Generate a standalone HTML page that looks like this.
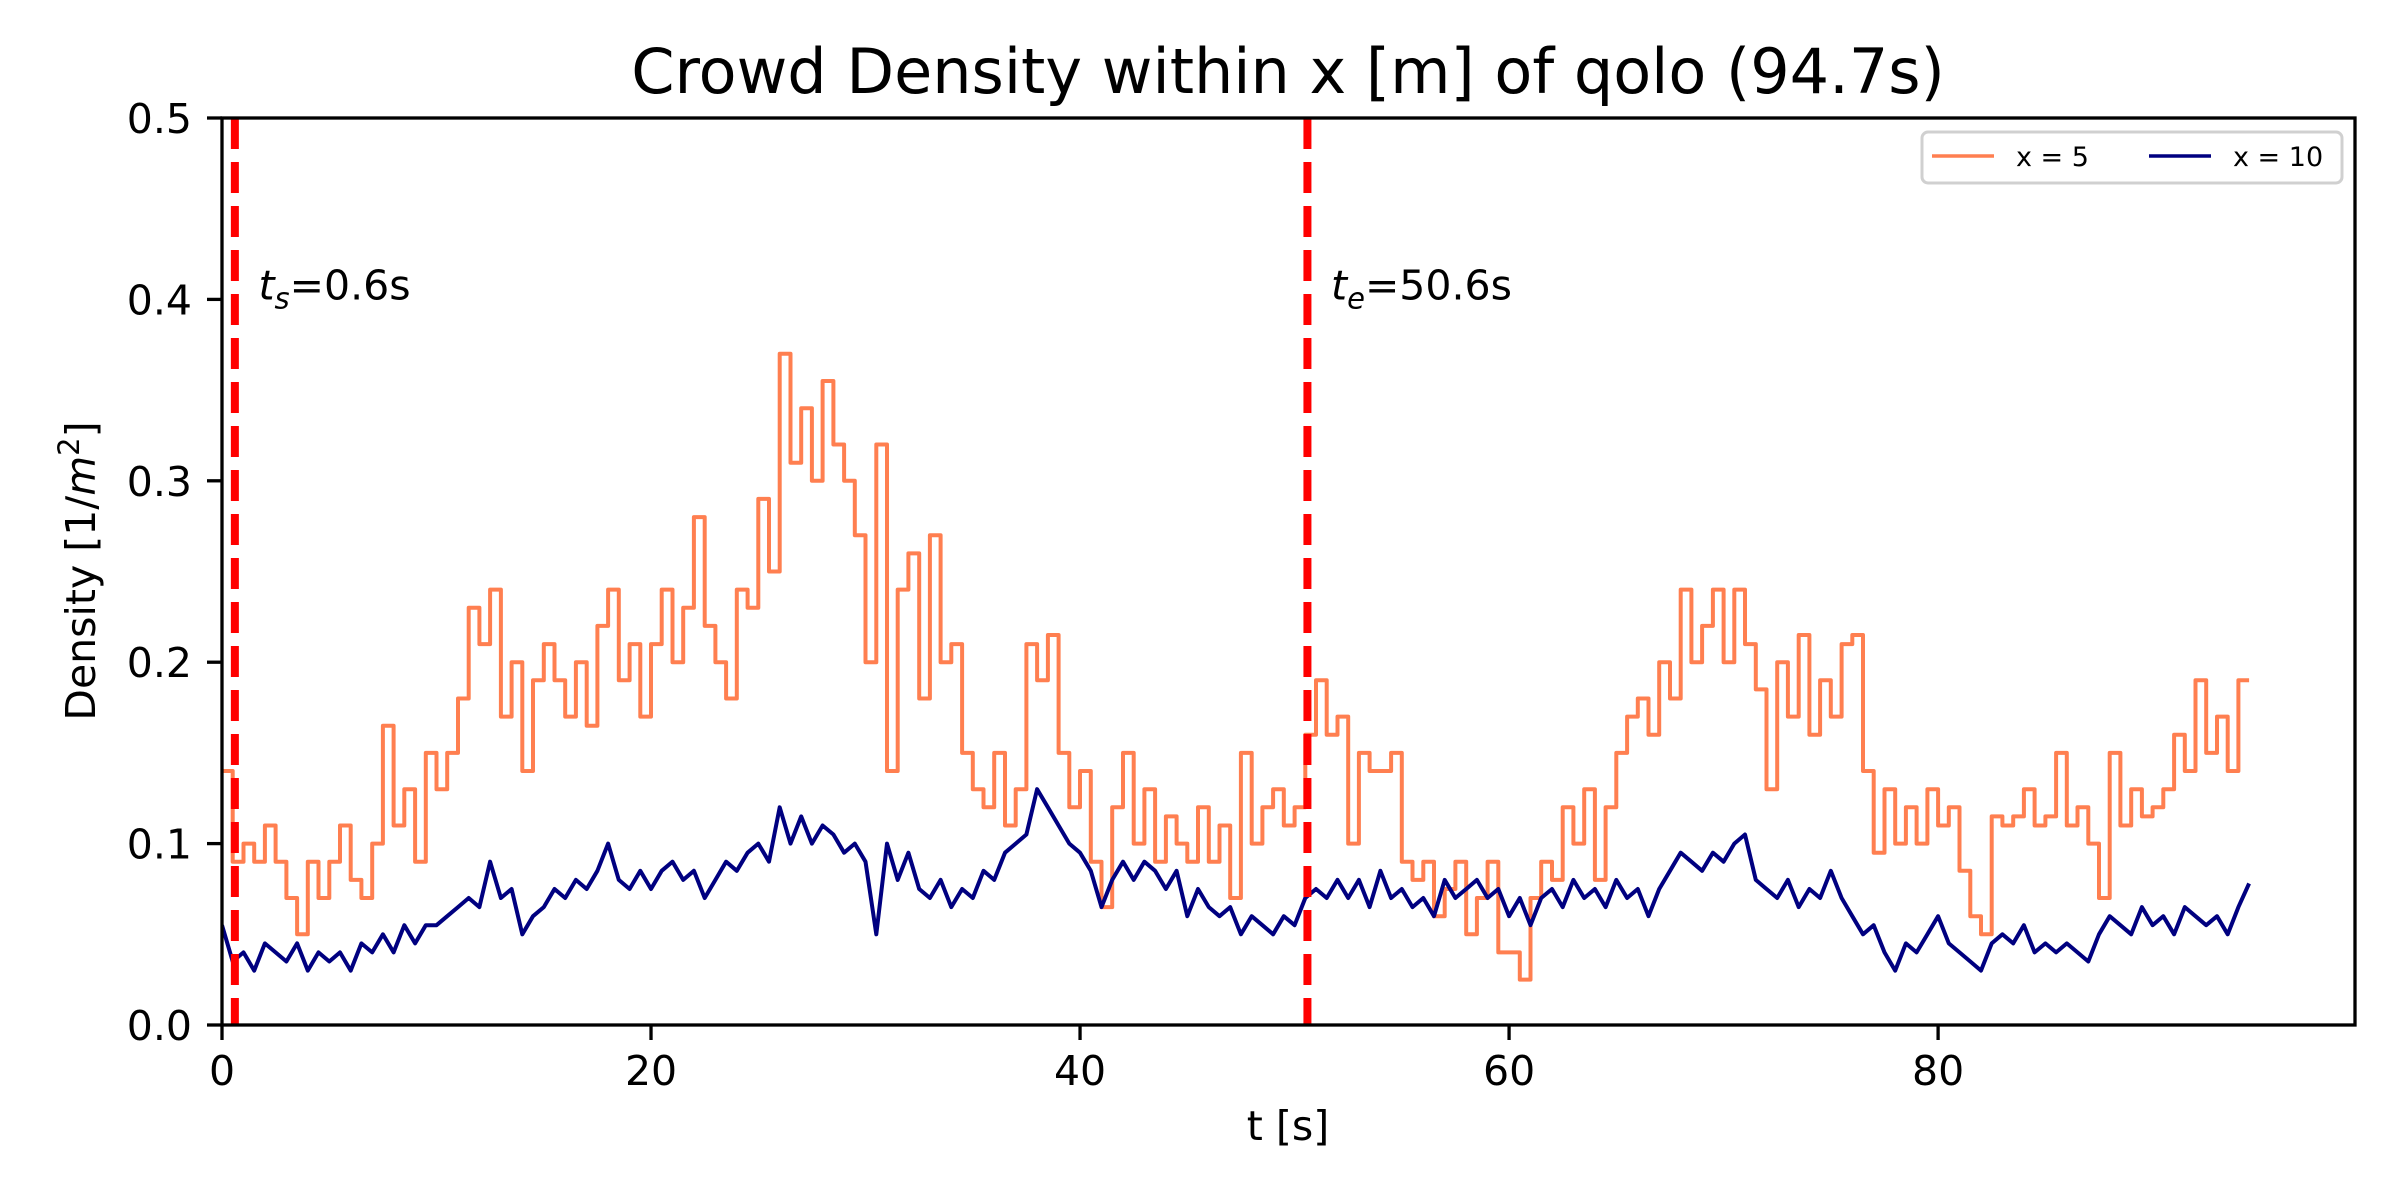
<!DOCTYPE html>
<html><head><meta charset="utf-8"><style>
html,body{margin:0;padding:0;background:#fff;width:2400px;height:1200px;overflow:hidden}
svg{display:block;font-family:"DejaVu Sans","Liberation Sans",sans-serif}
</style></head><body>
<svg id="chart" width="2400" height="1200" viewBox="0 0 2400 1200" xmlns="http://www.w3.org/2000/svg">
<rect width="2400" height="1200" fill="#fff"/>
<defs><clipPath id="plotclip"><rect x="222" y="118" width="2133" height="907"/></clipPath></defs>
<text x="1288" y="93" font-size="62" text-anchor="middle">Crowd Density within x [m] of qolo (94.7s)</text>
<text x="1288" y="1140" font-size="41" text-anchor="middle">t [s]</text>
<text transform="translate(95,571) rotate(-90)" font-size="41" text-anchor="middle">Density [1/<tspan font-style="italic">m</tspan><tspan font-size="29" dy="-16">2</tspan><tspan dy="16">]</tspan></text>
<g id="series" clip-path="url(#plotclip)"></g>
<g id="axes"></g>
</svg>
<script>
const dt = 0.5;
const xTicks = [0, 20, 40, 60, 80];
const yTicks = [0.0, 0.1, 0.2, 0.3, 0.4, 0.5];
const yTickLabels = ["0.0", "0.1", "0.2", "0.3", "0.4", "0.5"];
const markerTimes = [0.6, 50.6];
const markerLabels = ["s=0.6s", "e=50.6s"];
const seriesNames = ["x = 5", "x = 10"];
const densityX5 = [
0.14,0.09,0.10,0.09,0.11,0.09,0.07,0.05,0.09,0.07,
0.09,0.11,0.08,0.07,0.10,0.165,0.11,0.13,0.09,0.15,
0.13,0.15,0.18,0.23,0.21,0.24,0.17,0.20,0.14,0.19,
0.21,0.19,0.17,0.20,0.165,0.22,0.24,0.19,0.21,0.17,
0.21,0.24,0.20,0.23,0.28,0.22,0.20,0.18,0.24,0.23,
0.29,0.25,0.37,0.31,0.34,0.30,0.355,0.32,0.30,0.27,
0.20,0.32,0.14,0.24,0.26,0.18,0.27,0.20,0.21,0.15,
0.13,0.12,0.15,0.11,0.13,0.21,0.19,0.215,0.15,0.12,
0.14,0.09,0.065,0.12,0.15,0.10,0.13,0.09,0.115,0.10,
0.09,0.12,0.09,0.11,0.07,0.15,0.10,0.12,0.13,0.11,
0.12,0.16,0.19,0.16,0.17,0.10,0.15,0.14,0.14,0.15,
0.09,0.08,0.09,0.06,0.075,0.09,0.05,0.07,0.09,0.04,
0.04,0.025,0.07,0.09,0.08,0.12,0.10,0.13,0.08,0.12,
0.15,0.17,0.18,0.16,0.20,0.18,0.24,0.20,0.22,0.24,
0.20,0.24,0.21,0.185,0.13,0.20,0.17,0.215,0.16,0.19,
0.17,0.21,0.215,0.14,0.095,0.13,0.10,0.12,0.10,0.13,
0.11,0.12,0.085,0.06,0.05,0.115,0.11,0.115,0.13,0.11,
0.115,0.15,0.11,0.12,0.10,0.07,0.15,0.11,0.13,0.115,
0.12,0.13,0.16,0.14,0.19,0.15,0.17,0.14,0.19,0.19];
const densityX10 = [
0.055,0.035,0.04,0.03,0.045,0.04,0.035,0.045,0.03,0.04,
0.035,0.04,0.03,0.045,0.04,0.05,0.04,0.055,0.045,0.055,
0.055,0.06,0.065,0.07,0.065,0.09,0.07,0.075,0.05,0.06,
0.065,0.075,0.07,0.08,0.075,0.085,0.10,0.08,0.075,0.085,
0.075,0.085,0.09,0.08,0.085,0.07,0.08,0.09,0.085,0.095,
0.10,0.09,0.12,0.10,0.115,0.10,0.11,0.105,0.095,0.10,
0.09,0.05,0.10,0.08,0.095,0.075,0.07,0.08,0.065,0.075,
0.07,0.085,0.08,0.095,0.10,0.105,0.13,0.12,0.11,0.10,
0.095,0.085,0.065,0.08,0.09,0.08,0.09,0.085,0.075,0.085,
0.06,0.075,0.065,0.06,0.065,0.05,0.06,0.055,0.05,0.06,
0.055,0.07,0.075,0.07,0.08,0.07,0.08,0.065,0.085,0.07,
0.075,0.065,0.07,0.06,0.08,0.07,0.075,0.08,0.07,0.075,
0.06,0.07,0.055,0.07,0.075,0.065,0.08,0.07,0.075,0.065,
0.08,0.07,0.075,0.06,0.075,0.085,0.095,0.09,0.085,0.095,
0.09,0.10,0.105,0.08,0.075,0.07,0.08,0.065,0.075,0.07,
0.085,0.07,0.06,0.05,0.055,0.04,0.03,0.045,0.04,0.05,
0.06,0.045,0.04,0.035,0.03,0.045,0.05,0.045,0.055,0.04,
0.045,0.04,0.045,0.04,0.035,0.05,0.06,0.055,0.05,0.065,
0.055,0.06,0.05,0.065,0.06,0.055,0.06,0.05,0.065,0.078];

const NS = "http://www.w3.org/2000/svg";
const L = 222, R = 2355, T = 118, B = 1025;
const xMin = 0, xMax = 99.435, yMin = 0, yMax = 0.5;
function xs(v){ return L + (v - xMin) / (xMax - xMin) * (R - L); }
function ys(v){ return B - (v - yMin) / (yMax - yMin) * (B - T); }
function mk(tag, attrs, parent){ const e = document.createElementNS(NS, tag); for (const k in attrs) e.setAttribute(k, attrs[k]); parent.appendChild(e); return e; }

const series = document.getElementById('series');
const axes = document.getElementById('axes');

function drawLine(vals, color, name, stepped){
  let d = '';
  vals.forEach((v,i)=>{
    const x = xs(i*dt).toFixed(1), y = ys(v).toFixed(1);
    if (i === 0) d += 'M' + x + ',' + y;
    else if (stepped) d += ' H' + x + ' V' + y;
    else d += ' L' + x + ',' + y;
  });
  const p = mk('path', {d:d, fill:'none', stroke:color, 'stroke-width':4, 'stroke-linejoin':'round'}, series);
  
  
}
drawLine(densityX5, '#FF7F50', 'line-x5', true);
drawLine(densityX10, '#000080', 'line-x10', false);

markerTimes.forEach((t,i)=>{
  const ln = mk('line', {x1:xs(t), x2:xs(t), y1:T, y2:B, stroke:'#FF0000', 'stroke-width':8, 'stroke-dasharray':'31 13'}, series);
  
  
  const tx = mk('text', {x:xs(t+1.1), y:ys(0.4), 'font-size':41}, axes);
  
  
  const parts = markerLabels[i].split('=');
  const it = mk('tspan', {'font-style':'italic'}, tx); it.textContent = 't';
  const sub = mk('tspan', {'font-style':'italic', 'font-size':29, dy:9}, tx); sub.textContent = parts[0];
  const rest = mk('tspan', {dy:-9}, tx); rest.textContent = '=' + parts[1];
});

const frame = mk('rect', {x:L, y:T, width:R-L, height:B-T, fill:'none', stroke:'#000', 'stroke-width':3.3}, axes);



xTicks.forEach(v=>{
  const tk = mk('line', {x1:xs(v), x2:xs(v), y1:B, y2:B+15, stroke:'#000', 'stroke-width':3.3}, axes);
  
  
  const lb = mk('text', {x:xs(v), y:B+60, 'font-size':41, 'text-anchor':'middle'}, axes);
  
  
  lb.textContent = String(v);
});
yTicks.forEach((v,i)=>{
  const tk = mk('line', {x1:L-15, x2:L, y1:ys(v), y2:ys(v), stroke:'#000', 'stroke-width':3.3}, axes);
  
  
  const lb = mk('text', {x:L-30, y:ys(v)+15, 'font-size':41, 'text-anchor':'end'}, axes);
  
  
  lb.textContent = yTickLabels[i];
});

const lg = mk('g', {}, axes);


mk('rect', {x:1922, y:132, width:420, height:51, rx:6, fill:'#fff', 'fill-opacity':0.8, stroke:'#d0d0d0', 'stroke-width':3}, lg);
const legendColors = ['#FF7F50', '#000080'];
const legendX = [1932, 2149];
seriesNames.forEach((n,i)=>{
  const ent = mk('g', {}, lg);
  
  
  mk('line', {x1:legendX[i], x2:legendX[i]+62, y1:156, y2:156, stroke:legendColors[i], 'stroke-width':3.5}, ent);
  const t = mk('text', {x:legendX[i]+84, y:166, 'font-size':27}, ent);
  t.textContent = n;
});
</script>
</body></html>
